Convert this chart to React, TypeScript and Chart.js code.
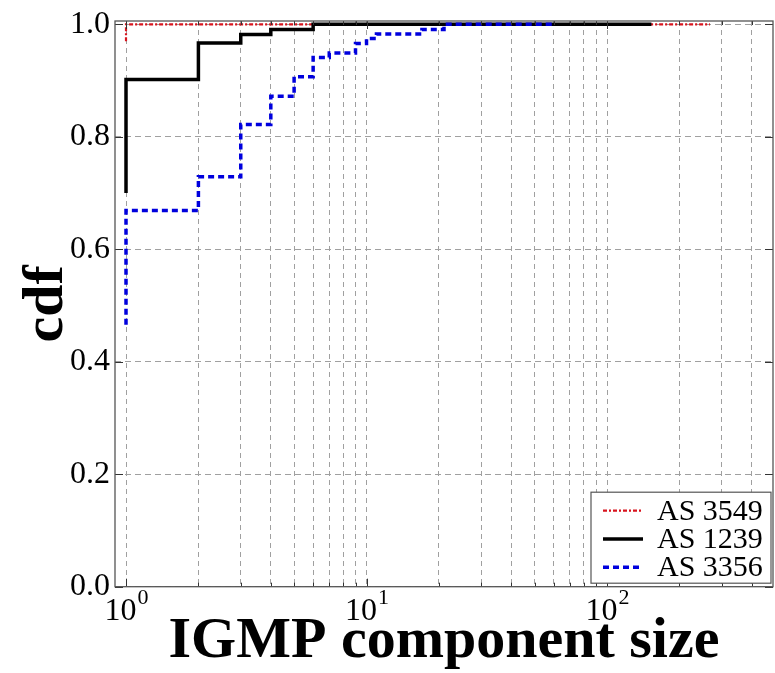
import React, { useEffect, useRef } from 'react';
import { Chart, registerables } from 'chart.js';

Chart.register(...registerables);

// ---- data ----
const seriesLabels = ['AS 3549', 'AS 1239', 'AS 3356'];
const as3549X = [1, 1, 268];
const as3549Y = [0.97, 1.0, 1.0];
const as1239X = [1, 1, 2, 3, 4, 6, 153];
const as1239Y = [0.7, 0.902, 0.967, 0.982, 0.991, 1.0, 1.0];
const as3356X = [1, 1, 2, 3, 4, 5, 6, 7, 9, 10, 11, 17, 21, 60];
const as3356Y = [0.466, 0.669, 0.729, 0.822, 0.872, 0.907, 0.941, 0.949, 0.966, 0.975, 0.983, 0.991, 1.0, 1.0];

const xTickValues = [1, 2, 3, 4, 5, 6, 7, 8, 9, 10, 20, 30, 40, 50, 60, 70, 80, 90, 100, 200, 300, 400];
const xMajorTicks = [1, 10, 100];
const xTickBase = '10';
const xTickExponents = ['0', '1', '2'];
const yTickValues = [0, 0.2, 0.4, 0.6, 0.8, 1.0];
const xTitle = 'IGMP component size';
const yTitle = 'cdf';

const SERIF = "'Liberation Serif', 'DejaVu Serif', serif";

const toPoints = (xs: number[], ys: number[]) => xs.map((x, i) => ({ x, y: ys[i] }));

const frameAndTicksPlugin = {
  id: 'frameAndTicks',
  afterDatasetsDraw(chart: any) {
    const { ctx, chartArea } = chart;
    const { left, right, top, bottom } = chartArea;
    const xs = chart.scales.x;
    const ys = chart.scales.y;
    ctx.save();
    ctx.strokeStyle = '#333';
    ctx.lineWidth = 1;
    ctx.setLineDash([]);
    ctx.beginPath();
    xTickValues.forEach((v) => {
      const px = Math.round(xs.getPixelForValue(v)) + 0.5;
      const len = xMajorTicks.includes(v) ? 8 : 4;
      ctx.moveTo(px, bottom);
      ctx.lineTo(px, bottom - len);
      ctx.moveTo(px, top);
      ctx.lineTo(px, top + len);
    });
    yTickValues.forEach((v) => {
      const py = Math.round(ys.getPixelForValue(v)) + 0.5;
      ctx.moveTo(left, py);
      ctx.lineTo(left + 8, py);
      ctx.moveTo(right, py);
      ctx.lineTo(right - 8, py);
    });
    ctx.stroke();
    ctx.strokeStyle = '#555';
    ctx.lineWidth = 1.3;
    ctx.strokeRect(left, top, right - left, bottom - top);
    ctx.restore();
  },
};

const xLabelPlugin = {
  id: 'xLabels',
  afterDraw(chart: any) {
    const { ctx, chartArea } = chart;
    const xs = chart.scales.x;
    ctx.save();
    ctx.fillStyle = '#000';
    ctx.textBaseline = 'alphabetic';
    ctx.textAlign = 'left';
    xMajorTicks.forEach((v, i) => {
      const px = xs.getPixelForValue(v);
      ctx.font = `32px ${SERIF}`;
      const wb = ctx.measureText(xTickBase).width;
      ctx.font = `22px ${SERIF}`;
      const we = ctx.measureText(xTickExponents[i]).width;
      const start = px - (wb + we) / 2;
      const baseY = chartArea.bottom + 33.5;
      ctx.font = `32px ${SERIF}`;
      ctx.fillText(xTickBase, start, baseY);
      ctx.font = `22px ${SERIF}`;
      ctx.fillText(xTickExponents[i], start + wb + 1, baseY - 16);
    });
    ctx.restore();
  },
};

const legendPlugin = {
  id: 'insideLegend',
  afterDraw(chart: any) {
    const { ctx, chartArea } = chart;
    const w = 180;
    const h = 91;
    const x0 = chartArea.right - 2 - w;
    const y0 = chartArea.bottom - 3.5 - h;
    ctx.save();
    ctx.fillStyle = '#fff';
    ctx.fillRect(x0, y0, w, h);
    ctx.strokeStyle = '#555';
    ctx.lineWidth = 1.2;
    ctx.setLineDash([]);
    ctx.strokeRect(x0, y0, w, h);
    chart.data.datasets.forEach((ds: any, i: number) => {
      const cy = y0 + 18.5 + i * 28.3;
      ctx.save();
      ctx.strokeStyle = ds.borderColor;
      ctx.lineWidth = ds.borderWidth;
      ctx.setLineDash(ds.borderDash || []);
      ctx.beginPath();
      ctx.moveTo(x0 + 12, cy);
      ctx.lineTo(x0 + 52, cy);
      ctx.stroke();
      ctx.restore();
      ctx.fillStyle = '#000';
      ctx.font = `30px ${SERIF}`;
      ctx.textBaseline = 'middle';
      ctx.textAlign = 'left';
      ctx.fillText(ds.label, x0 + 66, cy + 1);
    });
    ctx.restore();
  },
};

export default function App() {
  const canvasRef = useRef<HTMLCanvasElement | null>(null);

  useEffect(() => {
    if (!canvasRef.current) return;
    const chart = new Chart(canvasRef.current, {
      type: 'line',
      data: {
        datasets: [
          {
            label: seriesLabels[0],
            data: toPoints(as3549X, as3549Y),
            borderColor: '#d8141e',
            borderWidth: 2.2,
            borderDash: [4, 2, 2, 2],
            stepped: 'before',
            pointRadius: 0,
            fill: false,
            order: 3,
          },
          {
            label: seriesLabels[1],
            data: toPoints(as1239X, as1239Y),
            borderColor: '#000000',
            borderWidth: 3.5,
            borderDash: [],
            stepped: 'before',
            pointRadius: 0,
            fill: false,
            order: 2,
          },
          {
            label: seriesLabels[2],
            data: toPoints(as3356X, as3356Y),
            borderColor: '#0000dd',
            borderWidth: 3.5,
            borderDash: [6, 4],
            stepped: 'before',
            pointRadius: 0,
            fill: false,
            order: 1,
          },
        ],
      },
      options: {
        animation: false,
        responsive: false,
        layout: { padding: { left: 0, right: 2, top: 17.3, bottom: 0 } },
        plugins: {
          legend: { display: false },
          tooltip: { enabled: false },
        },
        scales: {
          x: {
            type: 'logarithmic',
            min: 0.9,
            max: 490,
            afterBuildTicks: (scale: any) => {
              scale.ticks = xTickValues.map((v) => ({ value: v, major: xMajorTicks.includes(v) }));
            },
            afterFit: (scale: any) => {
              scale.height = 86.3;
            },
            ticks: { display: false },
            grid: { color: '#a0a0a0', lineWidth: 1, drawTicks: false },
            border: { display: false, dash: [5, 4] },
            title: {
              display: true,
              text: xTitle,
              color: '#000',
              font: { family: SERIF, size: 58, weight: 'bold', lineHeight: 1 },
              padding: { top: 0, bottom: 1.6 },
            },
          },
          y: {
            type: 'linear',
            min: 0,
            max: 1.006,
            afterBuildTicks: (scale: any) => {
              scale.ticks = yTickValues.map((v) => ({ value: v }));
            },
            afterFit: (scale: any) => {
              scale.width = 115;
            },
            ticks: {
              color: '#000',
              padding: 5,
              font: { family: SERIF, size: 32, lineHeight: 1 },
              callback: (v: any) => Number(v).toFixed(1),
            },
            grid: { color: '#a0a0a0', lineWidth: 1, drawTicks: false },
            border: { display: false, dash: [6, 4] },
            title: {
              display: true,
              text: yTitle,
              color: '#000',
              font: { family: SERIF, size: 58, weight: 'bold', lineHeight: 1 },
              padding: { top: 18, bottom: 0 },
            },
          },
        },
      },
      plugins: [frameAndTicksPlugin, xLabelPlugin, legendPlugin],
    } as any);
    return () => chart.destroy();
  }, []);

  return (
    <div style={{ position: 'fixed', left: 0, top: 0, width: 775, height: 673, background: '#fff' }}>
      <canvas ref={canvasRef} width={775} height={673} />
    </div>
  );
}
